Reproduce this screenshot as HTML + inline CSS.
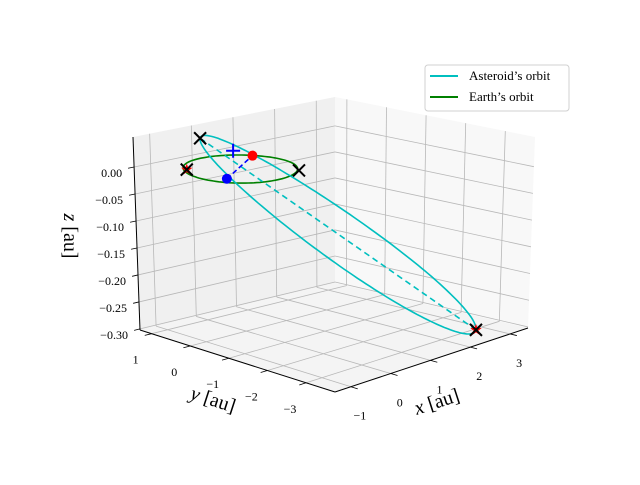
<!DOCTYPE html>
<html><head><meta charset="utf-8">
<style>
body{margin:0;background:#fff}
svg text{font-family:"Liberation Serif",serif}
</style></head>
<body>
<svg id="c" width="640" height="480" viewBox="0 0 640 480" xmlns="http://www.w3.org/2000/svg">
<g id="panes"></g>
<g id="grid"></g>
<g id="axes"></g>
<g id="series"></g>
<g id="marks"></g>
<text x="437" y="408" font-size="20" text-anchor="middle" transform="rotate(-18 437 402)"><tspan font-style="italic">x</tspan> [au]</text>
<text x="213" y="406" font-size="20" text-anchor="middle" transform="rotate(18 213 400)"><tspan font-style="italic">y</tspan> [au]</text>
<text x="70" y="236" font-size="20" text-anchor="middle" transform="rotate(90 70 236)" dy="6"><tspan font-style="italic">z</tspan> [au]</text>
<g>
<rect x="425" y="65" width="144" height="46" rx="3" fill="#fff" fill-opacity="0.8" stroke="#d0d0d0"/>
<line x1="430" y1="76" x2="458" y2="76" stroke="#00bfbf" stroke-width="2"/>
<text x="469" y="80" font-size="13">Asteroid’s orbit</text>
<line x1="430" y1="97" x2="458" y2="97" stroke="#008000" stroke-width="2"/>
<text x="469" y="101" font-size="13">Earth’s orbit</text>
</g>
</svg>
<script>
// axis limits
const xLim = [-1.4, 3.45];
const yLim = [-3.75, 1.3];
const zLim = [-0.302, 0.0556];
// tick values
const xTicks = [-1, 0, 1, 2, 3];
const yTicks = [-3, -2, -1, 0, 1];
const zTicks = [-0.30, -0.25, -0.20, -0.15, -0.10, -0.05, 0.00];
const zTickLabels = ["−0.30","−0.25","−0.20","−0.15","−0.10","−0.05","0.00"];
// Earth orbit
const earthRadius = [1.0];
// Asteroid orbit elements
const asteroidPeri = [0.75];
const asteroidAph = [4.16];
const periDir = [-0.685, 0.726, 0.073];
const minorDir = [0.726, 0.685, 0.0];
// markers (au)
const crossPts = [[0.62,-0.75,0],[-0.8,0.6,0]];
const starPts = [[-0.8,0.6,0]];
const redDot = [0.776, 0.587, 0];
const blueDot = [-0.705, -0.311, 0];
const bluePlus = [0.78, 1.08, 0];

const NS = "http://www.w3.org/2000/svg";
const C = {
 "000":[335,392],"100":[528,328],"010":[140,330],"110":[335,283],
 "001":[335,194],"101":[535,137],"011":[133,137],"111":[335,97]};
function Puvw(u,v,w){
  let X=0,Y=0;
  for(const k in C){
    const a=+k[0],b=+k[1],c=+k[2];
    const f=(a?u:1-u)*(b?v:1-v)*(c?w:1-w);
    X+=f*C[k][0];Y+=f*C[k][1];
  }
  return [X,Y];
}
const nu=x=>(x-xLim[0])/(xLim[1]-xLim[0]);
const nv=y=>(y-yLim[0])/(yLim[1]-yLim[0]);
const nw=z=>(z-zLim[0])/(zLim[1]-zLim[0]);
function P(x,y,z){const p=Puvw(nu(x),nv(y),nw(z));return p;}
function el(tag,attrs,parent){const e=document.createElementNS(NS,tag);for(const k in attrs)e.setAttribute(k,attrs[k]);document.getElementById(parent).appendChild(e);return e;}
function poly(pts){return pts.map(p=>p[0].toFixed(1)+","+p[1].toFixed(1)).join(" ");}
function line(a,b,parent,style){const e=el("line",Object.assign({x1:a[0],y1:a[1],x2:b[0],y2:b[1]},style),parent);return e;}

let e;
e=el("polygon",{points:poly([Puvw(0,1,0),Puvw(1,1,0),Puvw(1,1,1),Puvw(0,1,1)]),fill:"#f0f0f0"},"panes");


e=el("polygon",{points:poly([Puvw(1,0,0),Puvw(1,1,0),Puvw(1,1,1),Puvw(1,0,1)]),fill:"#f8f8f8"},"panes");


e=el("polygon",{points:poly([Puvw(0,0,0),Puvw(1,0,0),Puvw(1,1,0),Puvw(0,1,0)]),fill:"#f4f4f4"},"panes");



const gs={stroke:"#b8b8b8","stroke-width":0.8};
xTicks.forEach(t=>{const u=nu(t);
  e=line(Puvw(u,1,0),Puvw(u,1,1),"grid",gs);
  
  
  e=line(Puvw(u,0,0),Puvw(u,1,0),"grid",gs);
  
  
  e=line(Puvw(u,0,0),Puvw(u,-0.035,0),"axes",{stroke:"#000","stroke-width":0.8});
  
  
  const p=Puvw(u,0,0);
  e=el("text",{x:p[0]+9,y:p[1]+33,"font-size":12,"text-anchor":"middle"},"axes");
  e.textContent=(t<0?"−":"")+Math.abs(t);
  
  
});
yTicks.forEach(t=>{const v=nv(t);
  e=line(Puvw(1,v,0),Puvw(1,v,1),"grid",gs);
  
  
  e=line(Puvw(0,v,0),Puvw(1,v,0),"grid",gs);
  
  
  e=line(Puvw(0,v,0),Puvw(-0.035,v,0),"axes",{stroke:"#000","stroke-width":0.8});
  
  
  const p=Puvw(0,v,0);
  e=el("text",{x:p[0]-16,y:p[1]+30,"font-size":12,"text-anchor":"middle"},"axes");
  e.textContent=(t<0?"−":"")+Math.abs(t);
  
  
});
zTicks.forEach((t,i)=>{const w=nw(t);
  e=line(Puvw(0,1,w),Puvw(1,1,w),"grid",gs);
  
  
  e=line(Puvw(1,0,w),Puvw(1,1,w),"grid",gs);
  
  
  e=line(Puvw(0,1,w),Puvw(-0.03,1,w),"axes",{stroke:"#000","stroke-width":0.8});
  
  
  const p=Puvw(0,1,w);
  e=el("text",{x:p[0]-12,y:p[1]+10,"font-size":12,"text-anchor":"end"},"axes");
  e.textContent=zTickLabels[i];
  
  
});
const as={stroke:"#000","stroke-width":1};
e=line(Puvw(0,0,0),Puvw(1,0,0),"axes",as);


e=line(Puvw(0,1,0),Puvw(0,0,0),"axes",as);


e=line(Puvw(0,1,0),Puvw(0,1,1),"axes",as);



const ep=[];for(let i=0;i<=120;i++){const t=i/120*2*Math.PI;ep.push(P(earthRadius[0]*Math.cos(t)-0.04,earthRadius[0]*Math.sin(t)+0.04,0));}
e=el("polyline",{points:poly(ep),fill:"none",stroke:"#008000","stroke-width":1.6},"series");



const q=asteroidPeri[0],Q=asteroidAph[0];
const a=(q+Q)/2,ecc=(Q-q)/(Q+q),b=a*Math.sqrt(1-ecc*ecc);
const nrm=Math.hypot(...periDir);const dp=periDir.map(c=>c/nrm);
function ast(E){const A=a*(Math.cos(E)-ecc),B=b*Math.sin(E);return [0,1,2].map(k=>A*dp[k]+B*minorDir[k]);}
const ap=[];for(let i=0;i<=200;i++){const E=i/200*2*Math.PI;ap.push(P(...ast(E)));}
e=el("polyline",{points:poly(ap),fill:"none",stroke:"#00bfbf","stroke-width":1.6},"series");


const peri=ast(0),aph=ast(Math.PI);
e=line(P(...peri),P(...aph),"series",{stroke:"#00bfbf","stroke-width":1.6,"stroke-dasharray":"6,4"});


e=line(P(...blueDot),P(...redDot),"series",{stroke:"#0000ff","stroke-width":1.6,"stroke-dasharray":"5,3"});



function star(p,name){const [X,Y]=P(...p);const pts=[];for(let i=0;i<10;i++){const r=i%2?2.5:6;const t=-Math.PI/2+i*Math.PI/5;pts.push([X+r*Math.cos(t),Y+r*Math.sin(t)]);}
  const s=el("polygon",{points:poly(pts),fill:"#ff0000"},"marks");
  
  }
function cross(p,name){const [X,Y]=P(...p);const g=el("path",{d:`M${X-6},${Y-6}L${X+6},${Y+6}M${X-6},${Y+6}L${X+6},${Y-6}`,stroke:"#000","stroke-width":2,fill:"none"},"marks");
  
  }
starPts.forEach(p=>star(p,'node-star'));
star(aph,'aphelion-star');
crossPts.forEach(p=>cross(p,'node-cross'));
cross(peri,'perihelion-cross');
cross(aph,'aphelion-cross');
let rp=P(...redDot);
e=el("circle",{cx:rp[0],cy:rp[1],r:5,fill:"#ff0000"},"marks");


let bp=P(...blueDot);
e=el("circle",{cx:bp[0],cy:bp[1],r:5,fill:"#0000ff"},"marks");


let pp=P(...bluePlus);
e=el("path",{d:`M${pp[0]-7},${pp[1]}L${pp[0]+7},${pp[1]}M${pp[0]},${pp[1]-7}L${pp[0]},${pp[1]+7}`,stroke:"#0000ff","stroke-width":2},"marks");


</script>
</body></html>
